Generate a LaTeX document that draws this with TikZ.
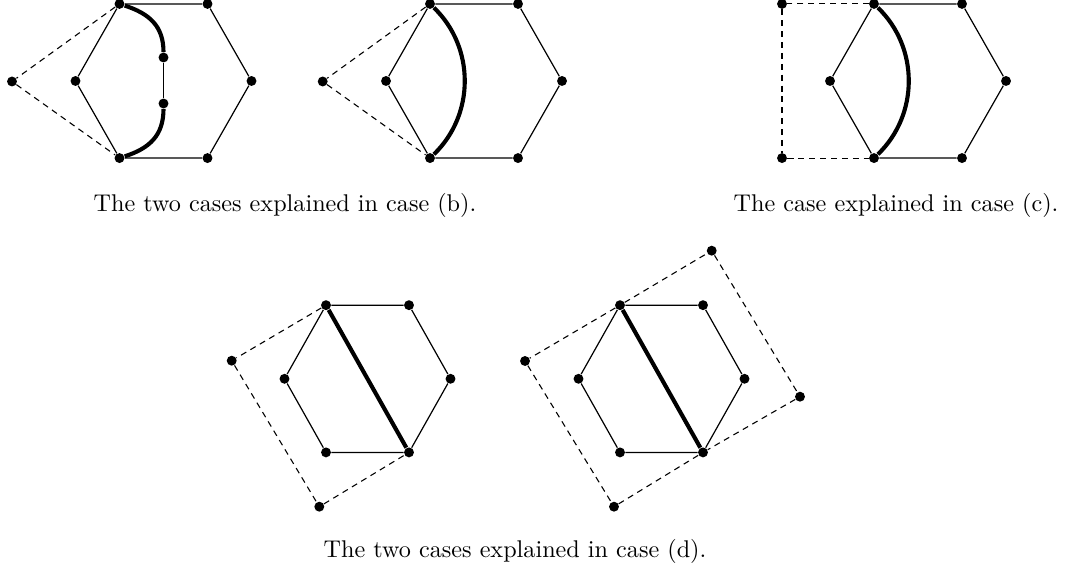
\documentclass[tikz,border=0pt]{standalone}
\usepackage{amsmath,amssymb}
\usepackage{xcolor}
\usepackage{tikz}
\usetikzlibrary{calc}
\tikzset{
  dot/.style={circle, fill=black, inner sep=0pt, minimum size=4.1pt},
  edge/.style={line width=0.5pt},
  chord/.style={line width=1.7pt},
  aux/.style={line width=0.45pt, dash pattern=on 2.5pt off 2pt},
  legend/.style={anchor=base, font=\normalsize},
}

\begin{document}
\begin{tikzpicture}[x=0.4134pt, y=0.4134pt]
  \useasboundingbox (0,0) rectangle (1066,571);
  % hexagons, corners 1..6 from the upper left, clockwise
  \foreach \h/\cx/\cy/\rx/\ry in {a/163.5/490/88/89, b/474/490/88/89, c/918/490/88/89,
                                   d/367.5/192.2/83/85, e/661.5/192.2/83/85} {
    \foreach \i/\ang in {1/120, 2/60, 3/0, 4/-60, 5/-120, 6/180}
      \node[dot] (\h\i) at ($(\cx,\cy)+(\ang:{\rx} and {\ry})$) {};
    \draw[edge] (\h1) -- (\h2) -- (\h3) -- (\h4) -- (\h5) -- (\h6) -- (\h1);
  }

  % case (b)
  \node[dot] (a7) at (163.5,513.5) {};
  \node[dot] (a8) at (163.5,467.5) {};
  \node[dot] (a0) at (12,489.5) {};
  \draw[edge] (a7) -- (a8);
  \draw[chord] (a1) to[out=-18, in=90, looseness=1.1] (a7);
  \draw[chord] (a8) to[out=-90, in=18, looseness=1.1] (a5);
  \draw[aux] (a1) -- (a0) -- (a5);
  \node[dot] (b0) at (322.7,489.5) {};
  \draw[chord] (b1) to[bend left=46] (b5);
  \draw[aux] (b1) -- (b0) -- (b5);
  \node[legend] (capb) at (285,359.5) {The two cases explained in case (b).};

  % case (c)
  \node[dot] (c7) at ($(c1)+(-92,0)$) {};
  \node[dot] (c8) at ($(c5)+(-92,0)$) {};
  \draw[chord] (c1) to[bend left=46] (c5);
  \draw[aux] (c1) -- (c7) -- (c8) -- (c5);
  \node[legend] (capc) at (896,359.5) {The case explained in case (c).};

  % case (d)
  \node[dot] (d7) at (231.7,210.3) {};
  \node[dot] (d8) at (319.3,64.3) {};
  \draw[chord] (d1) -- (d4);
  \draw[aux] (d1) -- (d7) -- (d8) -- (d4);
  \node[dot] (e7) at (525,210) {};
  \node[dot] (e8) at (614,64.3) {};
  \node[dot] (e9) at (711.7,320.3) {};
  \node[dot] (e10) at (800,174.3) {};
  \draw[chord] (e1) -- (e4);
  \draw[aux] (e1) -- (e7) -- (e8) -- (e4);
  \draw[aux] (e1) -- (e9) -- (e10) -- (e4);
  \node[legend] (capd) at (515,13.5) {The two cases explained in case (d).};
\end{tikzpicture}
\end{document}
